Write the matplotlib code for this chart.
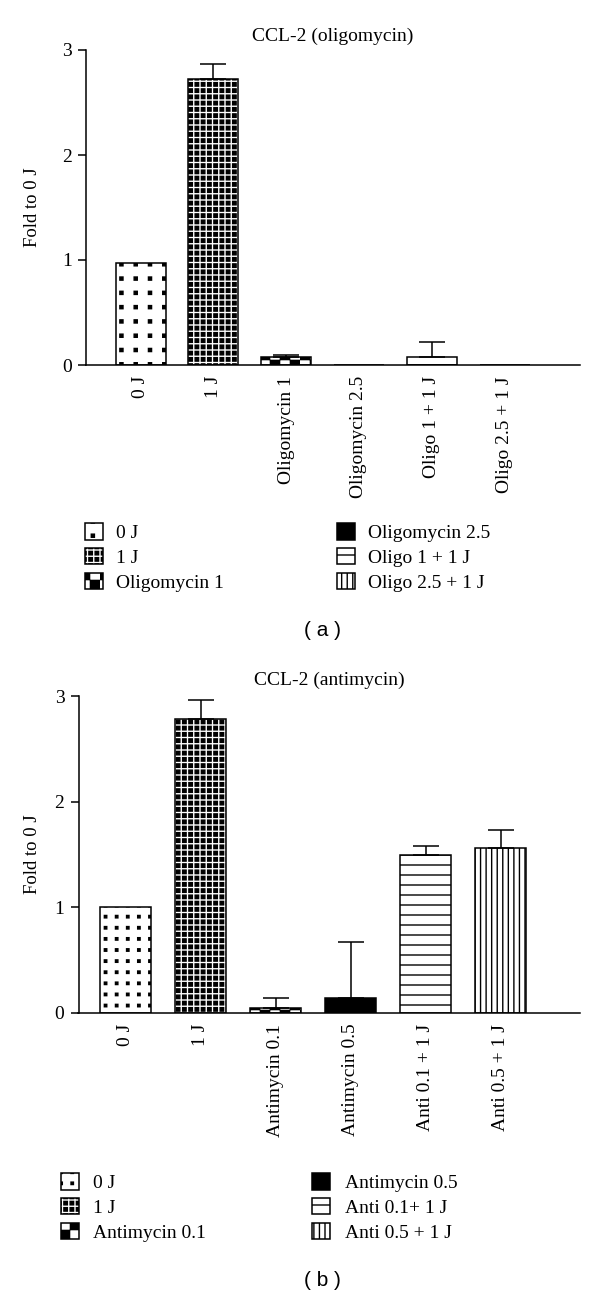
import numpy as np
import matplotlib
matplotlib.use("Agg")
import matplotlib.pyplot as plt
import matplotlib.hatch as mhatch
from matplotlib.path import Path

## data
labels_a = ["0 J", "1 J", "Oligomycin 1", "Oligomycin 2.5", "Oligo 1 + 1 J", "Oligo 2.5 + 1 J"]
legend_a = ["0 J", "1 J", "Oligomycin 1", "Oligomycin 2.5", "Oligo 1 + 1 J", "Oligo 2.5 + 1 J"]
means_a = [0.97, 2.72, 0.08, 0.0, 0.08, 0.0]
errs_a = [0.0, 0.15, 0.02, 0.0, 0.14, 0.0]

labels_b = ["0 J", "1 J", "Antimycin 0.1", "Antimycin 0.5", "Anti 0.1 + 1 J", "Anti 0.5 + 1 J"]
legend_b = ["0 J", "1 J", "Antimycin 0.1", "Antimycin 0.5", "Anti 0.1+ 1 J", "Anti 0.5 + 1 J"]
means_b = [1.0, 2.78, 0.04, 0.14, 1.49, 1.56]
errs_b = [0.0, 0.18, 0.10, 0.53, 0.09, 0.17]

yticks = [0, 1, 2, 3]

## fills: aligned square dots, dense squares, checker, solid, horizontal, vertical
fills_a = ["o" * 7, "O" * 16, "*" * 10, None, "--", "|||"]
fills_b = ["o" * 9, "O" * 16, "*" * 10, None, "--", "|||"]
faces = ["white", "white", "white", "black", "white", "white"]


## custom hatch patterns (GraphPad style fills)
class Squares(mhatch.HatchPatternBase):
    char = "o"
    frac = 0.22
    checker = False

    def __init__(self, hatch, density):
        self.n = hatch.count(self.char)
        self.cells = [(i, j) for i in range(self.n) for j in range(self.n)
                      if not (self.checker and (i + j) % 2)]
        self.num_vertices = 5 * len(self.cells)

    def set_vertices_and_codes(self, vertices, codes):
        step = 1.0 / self.n
        s = step * self.frac
        for k, (i, j) in enumerate(self.cells):
            x0 = i * step + (step - s) / 2
            y0 = j * step + (step - s) / 2
            vertices[5 * k:5 * k + 5] = [(x0, y0), (x0 + s, y0), (x0 + s, y0 + s),
                                         (x0, y0 + s), (x0, y0)]
            codes[5 * k:5 * k + 5] = [Path.MOVETO, Path.LINETO, Path.LINETO,
                                      Path.LINETO, Path.CLOSEPOLY]


class DenseSquares(Squares):
    char = "O"
    frac = 0.56


class Checker(Squares):
    char = "*"
    frac = 0.92
    checker = True


class Lines(mhatch.HorizontalHatch):
    def __init__(self, hatch, density):
        self.num_lines = hatch.count("-") * 5
        self.num_vertices = self.num_lines * 2


mhatch._hatch_types = [Lines, mhatch.VerticalHatch, Squares, DenseSquares, Checker]

plt.rcParams["font.family"] = "Liberation Serif"
plt.rcParams["hatch.linewidth"] = 1.0

W, H = 600, 1297
fig = plt.figure(figsize=(W / 100, H / 100), dpi=100)


def panel(rect, title, labels, legend_labels, means, errs, fills, xlim, width,
          title_pad, ylab_x, leg_xy, colspace, textpad, tag, tag_y):
    left, top, right, bottom = rect
    ax = fig.add_axes([left / W, 1 - bottom / H, (right - left) / W, (bottom - top) / H])
    x = np.arange(len(labels))
    handles = []
    for i in range(len(labels)):
        b = ax.bar(x[i], means[i], width=width, color=faces[i], edgecolor="black",
                   linewidth=1.1, hatch=fills[i])
        handles.append(b)
    errs = np.array(errs)
    m = errs > 0
    ax.errorbar(x[m], np.array(means)[m], yerr=[np.zeros(m.sum()), errs[m]],
                fmt="none", ecolor="black", elinewidth=1.1, capsize=9.5, capthick=1.1)

    ax.set_xlim(xlim)
    ax.set_ylim(0, 3)
    ax.set_yticks(yticks)
    ax.set_xticks(x)
    ax.set_xticklabels(labels, rotation=90, ha="center", va="top")
    ax.tick_params(axis="x", length=0, pad=8, labelsize=14)
    ax.tick_params(axis="y", length=5.8, width=1.1, pad=4.3, labelsize=14)
    for s in ["top", "right"]:
        ax.spines[s].set_visible(False)
    for s in ["left", "bottom"]:
        ax.spines[s].set_linewidth(1.1)
    ax.set_title(title, fontsize=14, pad=title_pad)
    ax.set_ylabel("Fold to 0 J", fontsize=13.5)
    ax.yaxis.set_label_coords(ylab_x, 0.5)

    fig.legend(handles, legend_labels, loc="upper left",
               bbox_to_anchor=(leg_xy[0] / W, 1 - leg_xy[1] / H), ncol=2,
               frameon=False, fontsize=14, borderpad=0, borderaxespad=0,
               handlelength=0.93, handleheight=0.93, handletextpad=textpad,
               labelspacing=0.3, columnspacing=colspace)
    fig.text(0.538, 1 - tag_y / H, tag, family="Liberation Sans", fontsize=15,
             ha="center", va="center")
    return ax


## (a)
panel((86, 50, 580, 365), "CCL-2 (oligomycin)", labels_a, legend_a, means_a, errs_a,
      fills_a, (-0.749, 6.037), 0.687, 6.5, -0.091, (85, 523), 5.8, 0.67, "( a )", 630)

## (b)
panel((78.5, 696, 580, 1012.7), "CCL-2 (antimycin)", labels_b, legend_b, means_b, errs_b,
      fills_b, (-0.627, 6.06), 0.69, 8, -0.075, (60.5, 1173), 5.45, 0.75, "( b )", 1280)

plt.savefig("out.png", dpi=100)
